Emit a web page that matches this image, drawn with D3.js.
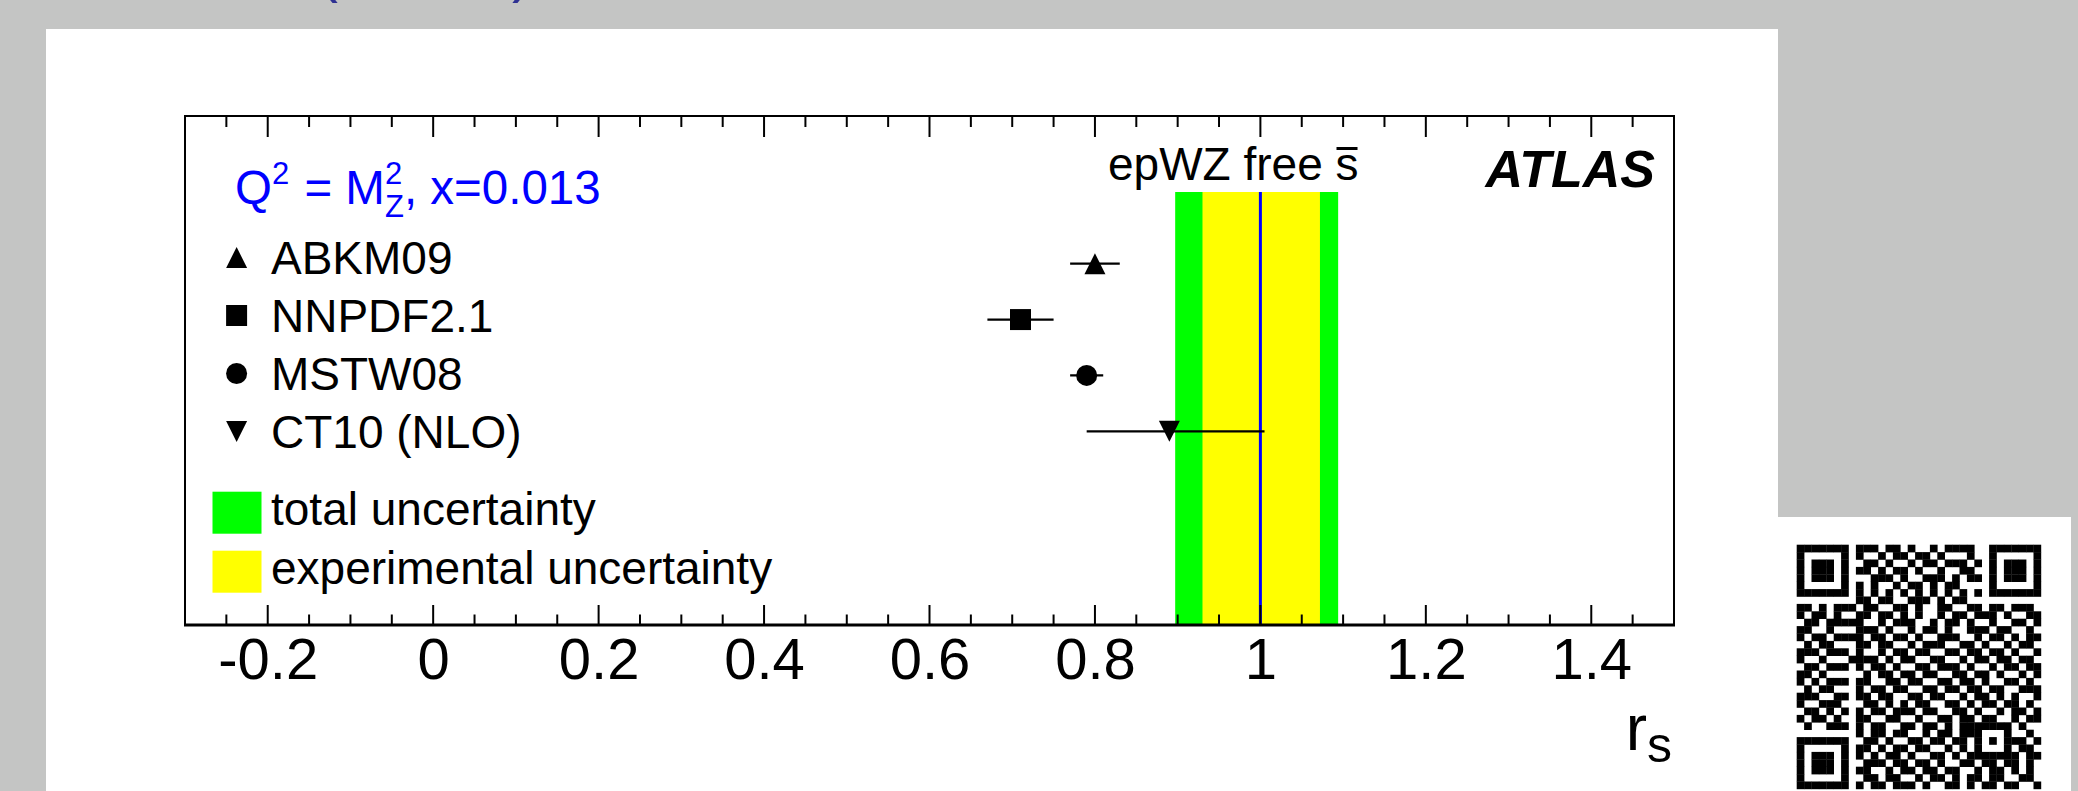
<!DOCTYPE html>
<html>
<head>
<meta charset="utf-8">
<script src="https://cdn.jsdelivr.net/npm/d3@7"></script>
<style>
  body { margin: 0; background: #c4c5c4; }
  svg { display: block; font-family: "Liberation Sans", Arial, Helvetica, sans-serif; }
</style>
</head>
<body>
<main></main>
<script>
'use strict';

// PDF predictions of r_s at Q^2 = M_Z^2, x = 0.013
const pdfNames = ["ABKM09", "NNPDF2.1", "MSTW08", "CT10 (NLO)"];
const pdfValues = [0.80, 0.71, 0.79, 0.89];
const pdfErrLow = [0.03, 0.04, 0.02, 0.10];
const pdfErrHigh = [0.03, 0.04, 0.02, 0.115];
const pdfMarkers = ["triUp", "square", "circle", "triDown"];

// epWZ free sbar fit
const fitCentral = 1.0;
const totalBand = [0.897, 1.094];
const expBand = [0.930, 1.072];

const xMajorTicks = [-0.2, 0, 0.2, 0.4, 0.6, 0.8, 1, 1.2, 1.4];
const xMinorTicks = d3.range(-0.25, 1.5, 0.05).map(v => +v.toFixed(2));

const legendBands = [
  {label: "total uncertainty", color: "#00ff00"},
  {label: "experimental uncertainty", color: "#ffff00"}
];

// decorative QR code in the corner (33 x 33 modules)
const qrRows = [
  "111111101110110100101111001111111",
  "100000101001011011010001001000001",
  "101110100110100101101110101011101",
  "101110101101011010010011001011101",
  "101110100011101001110101101011101",
  "100000101010010110101100001000001",
  "111111101010101010101010101111111",
  "000000001101100111010110000000000",
  "110101110110011010011001101101110",
  "101101001101101010010110111010011",
  "011011111001011100101101001001101",
  "110010101110100101101001110110010",
  "101101111011011010011100101101011",
  "010110001101100101110011010010110",
  "111011101001011011001101101101001",
  "100100011110101100110010110110110",
  "011011101011010011011101001011011",
  "110100000101101101100110110100101",
  "101011101100110110011011010011010",
  "010110001011011001101101101100111",
  "111001101101100110110010110101001",
  "100111000110101011001101011011010",
  "011010101011011101100110100101101",
  "101101001100110010011011011001011",
  "010011101011001101101011111110100",
  "000000001011011001011011100010010",
  "111111100110100110110110101011101",
  "100000101101011011001010100010110",
  "101110101010110100110101111111011",
  "101110100111011011010011011011010",
  "101110101100101101101100101101010",
  "100000100110110010110101101100110",
  "111111101011011101001101011011001"
];

const W = 2078, H = 791;
const frame = {left: 185, right: 1674, top: 116, bottom: 625};

const svg = d3.select('main')
  .append('svg')
  .attr('width', W)
  .attr('height', H);

svg.append('rect').attr('width', W).attr('height', H).attr('fill', '#c4c5c4');

// cut-off heading above the panel (only its lowest pixels show)
svg.append('text').attr('x', 318).attr('y', -9.5).attr('font-size', 60)
  .attr('fill', '#2e3192').text('(');
svg.append('text').attr('x', 512).attr('y', -9.5).attr('font-size', 60)
  .attr('fill', '#2e3192').text(')');

// white panel
svg.append('rect')
  .attr('x', 46).attr('y', 29)
  .attr('width', 1778 - 46).attr('height', H - 29)
  .attr('fill', '#fff');

const x = d3.scaleLinear().domain([-0.3, 1.5]).range([frame.left, frame.right]);
const y = d3.scalePoint().domain(pdfNames).range([263.7, 431.3]);

// custom ROOT-like markers
const triUp = {draw(ctx, size) {
  const r = Math.sqrt(size) / 2;
  ctx.moveTo(0, -r); ctx.lineTo(r, r); ctx.lineTo(-r, r); ctx.closePath();
}};
const triDown = {draw(ctx, size) {
  const r = Math.sqrt(size) / 2;
  ctx.moveTo(0, r); ctx.lineTo(r, -r); ctx.lineTo(-r, -r); ctx.closePath();
}};
const markerType = {triUp: triUp, triDown: triDown, square: d3.symbolSquare, circle: d3.symbolCircle};
const markerSize = {triUp: 441, triDown: 441, square: 441, circle: Math.PI * 10.5 * 10.5};
const marker = m => d3.symbol().type(markerType[m]).size(markerSize[m])();

const plot = svg.append('g');

// uncertainty bands
plot.append('rect')
  .attr('x', x(totalBand[0])).attr('y', 192)
  .attr('width', x(totalBand[1]) - x(totalBand[0]))
  .attr('height', frame.bottom - 192)
  .attr('fill', '#00ff00');
plot.append('rect')
  .attr('x', x(expBand[0])).attr('y', 192)
  .attr('width', x(expBand[1]) - x(expBand[0]))
  .attr('height', frame.bottom - 192)
  .attr('fill', '#ffff00');
plot.append('line')
  .attr('x1', x(fitCentral)).attr('x2', x(fitCentral))
  .attr('y1', 192).attr('y2', frame.bottom)
  .attr('stroke', '#0000ff').attr('stroke-width', 3);

// PDF points with error bars
const pts = plot.selectAll('g.pt')
  .data(pdfNames.map((n, i) => ({name: n, v: pdfValues[i], lo: pdfErrLow[i], hi: pdfErrHigh[i], m: pdfMarkers[i]})))
  .enter().append('g').attr('class', 'pt');

pts.append('line')
  .attr('x1', d => x(d.v - d.lo)).attr('x2', d => x(d.v + d.hi))
  .attr('y1', d => y(d.name)).attr('y2', d => y(d.name))
  .attr('stroke', '#000').attr('stroke-width', 2.2);
pts.append('path')
  .attr('d', d => marker(d.m))
  .attr('transform', d => `translate(${x(d.v)},${y(d.name)})`)
  .attr('fill', '#000');

// frame and axes
const tickLen = {major: 20, minor: 10.5};
const minorOnly = xMinorTicks.filter(v => !xMajorTicks.some(t => Math.abs(t - v) < 1e-6));
const topTicks = svg.append('g');
topTicks.selectAll('line.maj').data(xMajorTicks).enter().append('line')
  .attr('x1', d => x(d)).attr('x2', d => x(d))
  .attr('y1', frame.top).attr('y2', frame.top + 21)
  .attr('stroke', '#000').attr('stroke-width', 2);
topTicks.selectAll('line.min').data(minorOnly).enter().append('line')
  .attr('x1', d => x(d)).attr('x2', d => x(d))
  .attr('y1', frame.top).attr('y2', frame.top + 11)
  .attr('stroke', '#000').attr('stroke-width', 2);

const xAxis = d3.axisBottom(x)
  .tickValues(xMajorTicks)
  .tickSize(0)
  .tickPadding(0)
  .tickFormat(d => String(+d.toFixed(1)));

const axisG = svg.append('g')
  .attr('transform', `translate(0,${frame.bottom})`)
  .call(xAxis);
axisG.select('.domain').remove();
axisG.selectAll('text')
  .attr('font-size', 58)
  .attr('font-family', '"Liberation Sans", Arial, sans-serif')
  .attr('fill', '#000')
  .attr('dy', null)
  .attr('y', 54);

const botTicks = svg.append('g');
botTicks.selectAll('line.maj').data(xMajorTicks).enter().append('line')
  .attr('x1', d => x(d)).attr('x2', d => x(d))
  .attr('y1', frame.bottom).attr('y2', frame.bottom - tickLen.major)
  .attr('stroke', '#000').attr('stroke-width', 2);
botTicks.selectAll('line.min').data(minorOnly).enter().append('line')
  .attr('x1', d => x(d)).attr('x2', d => x(d))
  .attr('y1', frame.bottom).attr('y2', frame.bottom - tickLen.minor)
  .attr('stroke', '#000').attr('stroke-width', 2);

svg.append('path')
  .attr('d', `M${frame.left},${frame.bottom}V${frame.top}H${frame.right}V${frame.bottom}`)
  .attr('fill', 'none').attr('stroke', '#000').attr('stroke-width', 2);
svg.append('line')
  .attr('x1', frame.left - 1).attr('x2', frame.right + 1)
  .attr('y1', frame.bottom).attr('y2', frame.bottom)
  .attr('stroke', '#000').attr('stroke-width', 3);

// axis title r_s
const rs = svg.append('text').attr('x', 1672).attr('y', 750).attr('text-anchor', 'end');
rs.append('tspan').attr('font-size', 64).text('r');
rs.append('tspan').attr('font-size', 50).attr('dy', 12).text('s');

// Q^2 label
const q = svg.append('text').attr('x', 235).attr('y', 204).attr('font-size', 47.5).attr('fill', '#0000ff');
q.append('tspan').text('Q');
q.append('tspan').attr('font-size', 31).attr('dy', -20).text('2');
q.append('tspan').attr('dy', 20).attr('dx', 2).text('\u00a0= M');
q.append('tspan').attr('font-size', 31).attr('dy', -20).text('2');
q.append('tspan').attr('font-size', 31).attr('dx', -17.2).attr('dy', 33).text('Z');
q.append('tspan').attr('dy', -13).text(', x=0.013');

// legend of PDF sets
const legendY = d3.scalePoint().domain(pdfNames).range([257.5, 431.5]);
const leg = svg.selectAll('g.leg').data(pdfNames).enter().append('g').attr('class', 'leg');
leg.append('path')
  .attr('d', (d, i) => marker(pdfMarkers[i]))
  .attr('transform', d => `translate(236.6,${legendY(d)})`)
  .attr('fill', '#000');
leg.append('text')
  .attr('x', 271).attr('y', d => legendY(d) + 16)
  .attr('font-size', 46)
  .text(d => d);

// legend of uncertainty bands
const bandY = d3.scalePoint().domain(legendBands.map(d => d.label)).range([491.7, 550.7]);
legendBands.forEach(b => {
  svg.append('rect').attr('x', 212.5).attr('y', bandY(b.label))
    .attr('width', 49).attr('height', 42).attr('fill', b.color);
  svg.append('text').attr('x', 271).attr('y', bandY(b.label) + 33.5)
    .attr('font-size', 46).text(b.label);
});

// fit label
const fitLabel = svg.append('text').attr('x', 1108).attr('y', 180).attr('font-size', 46).text('epWZ free s');
const fn = fitLabel.node();
const s0 = fn.getStartPositionOfChar(10).x, s1 = fn.getEndPositionOfChar(10).x;
svg.append('line').attr('x1', s0 + 1).attr('x2', s1 - 1).attr('y1', 148.5).attr('y2', 148.5)
  .attr('stroke', '#000').attr('stroke-width', 3);

svg.append('text').attr('x', 1655).attr('y', 187)
  .attr('text-anchor', 'end')
  .attr('font-size', 52).attr('font-weight', 'bold').attr('font-style', 'italic')
  .text('ATLAS');

// QR code box
svg.append('rect').attr('x', 1777).attr('y', 517).attr('width', 2071 - 1777).attr('height', H - 517).attr('fill', '#fff');
const qrN = 33, qrM = 7.4, qrX = 1796.7, qrY = 544.7;
const isFinder = (r, c) => {
  const inF = (r0, c0) => r >= r0 && r < r0 + 7 && c >= c0 && c < c0 + 7;
  const f = (r0, c0) => {
    const rr = r - r0, cc = c - c0;
    return rr === 0 || rr === 6 || cc === 0 || cc === 6 || (rr >= 2 && rr <= 4 && cc >= 2 && cc <= 4);
  };
  if (inF(0, 0)) return f(0, 0);
  if (inF(0, qrN - 7)) return f(0, qrN - 7);
  if (inF(qrN - 7, 0)) return f(qrN - 7, 0);
  return null;
};
const qrCells = [];
for (let r = 0; r < qrN; r++) {
  for (let c = 0; c < qrN; c++) {
    let on = qrRows[r][c] === '1';
    const f = isFinder(r, c);
    if (f !== null) on = f;
    else if ((r === 7 && (c < 8 || c > qrN - 9)) || (c === 7 && (r < 8 || r > qrN - 9)) || (r < 8 && c === qrN - 8) || (r > qrN - 9 && c === 7)) on = false;
    else if (r === 6 && c > 7 && c < qrN - 8) on = c % 2 === 0;
    else if (c === 6 && r > 7 && r < qrN - 8) on = r % 2 === 0;
    else if (r >= 24 && r <= 28 && c >= 24 && c <= 28) {
      const rr = r - 24, cc = c - 24;
      on = rr === 0 || rr === 4 || cc === 0 || cc === 4 || (rr === 2 && cc === 2);
    }
    if (on) qrCells.push([r, c]);
  }
}
svg.append('g').selectAll('rect').data(qrCells).enter().append('rect')
  .attr('x', d => qrX + d[1] * qrM).attr('y', d => qrY + d[0] * qrM)
  .attr('width', qrM + 0.3).attr('height', qrM + 0.3)
  .attr('fill', '#000');
</script>
</body>
</html>
